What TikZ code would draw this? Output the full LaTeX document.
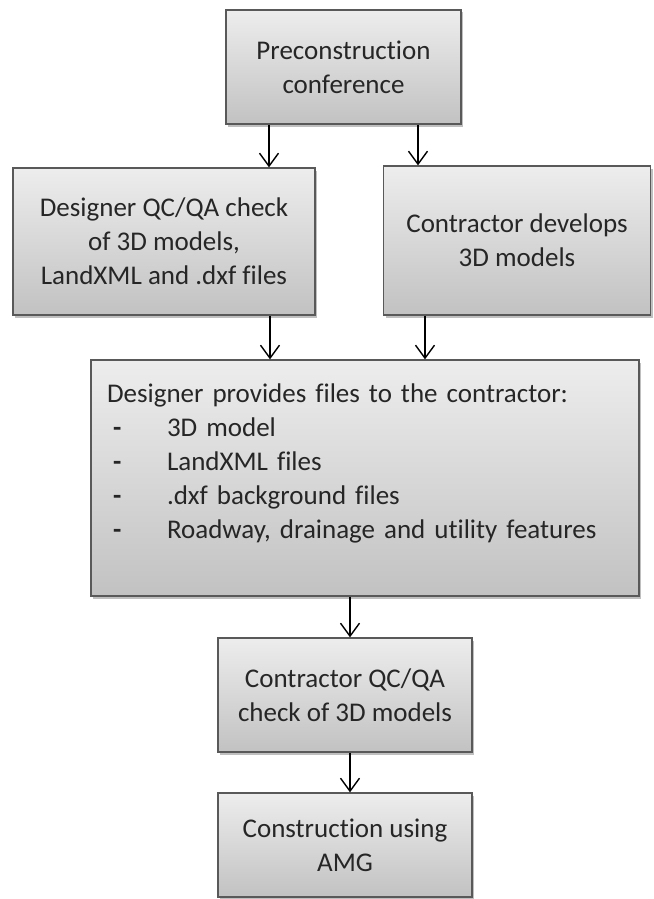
\documentclass[tikz,border=0pt]{standalone}
\usepackage{fontspec}
\setmainfont[Ligatures=NoCommon]{Carlito}
\usetikzlibrary{arrows.meta,shadows}

\tikzset{
  caja/.style={draw=black!65, line width=1.3pt, top color=black!7, bottom color=black!24,
    drop shadow={shadow xshift=2pt, shadow yshift=-2.5pt, opacity=0.25, fill=black},
    align=center, text=black!85, font=\fontsize{27}{34}\selectfont, inner sep=0pt},
  flecha/.style={-{Straight Barb[length=13pt,width=19pt,line width=1.4pt]}, line width=1.4pt, black}
}

\begin{document}
\begin{tikzpicture}[x=1pt,y=-1pt]
    \useasboundingbox (0,0) rectangle (653,899);

    % Cajas
    \node[caja, minimum width=235pt, minimum height=114pt] (pre) at (343.5,67) {Preconstruction\\conference};
    \node[caja, minimum width=302pt, minimum height=147pt] (disqc) at (164,241.5) {Designer QC/QA check\\of 3D models,\\LandXML and .dxf files};
    \node[caja, minimum width=267pt, minimum height=149pt] (condev) at (517,240.5) {Contractor develops\\3D models};
    \node[caja, minimum width=548pt, minimum height=236pt, text width=516pt, align=left] (archivos) at (365,478)
      {Designer provides files to the contractor:\\
       \hspace*{6pt}\makebox[54pt][l]{\textbf{-}}3D model\\
       \hspace*{6pt}\makebox[54pt][l]{\textbf{-}}LandXML files\\
       \hspace*{6pt}\makebox[54pt][l]{\textbf{-}}.dxf background files\\
       \hspace*{6pt}\makebox[54pt][l]{\textbf{-}}Roadway, drainage and utility features\\
       \mbox{}};
    \node[caja, minimum width=254pt, minimum height=114pt] (conqc) at (345,695) {Contractor QC/QA\\check of 3D models};
    \node[caja, minimum width=254pt, minimum height=104pt] (amg) at (345,845) {Construction using\\AMG};

    % Puntos de salida
    \coordinate (s1) at ([xshift=-74.5pt]pre.south);
    \coordinate (s2) at ([xshift=74.5pt]pre.south);
    \coordinate (s3) at ([xshift=106pt]disqc.south);
    \coordinate (s4) at ([xshift=-92pt]condev.south);
    \coordinate (s5) at ([xshift=-15pt]archivos.south);
    \coordinate (s6) at ([xshift=5pt]conqc.south);

    % Flechas
    \draw[flecha] (s1) -- (s1 |- disqc.north);
    \draw[flecha] (s2) -- (s2 |- condev.north);
    \draw[flecha] (s3) -- (s3 |- archivos.north);
    \draw[flecha] (s4) -- (s4 |- archivos.north);
    \draw[flecha] (s5) -- (s5 |- conqc.north);
    \draw[flecha] (s6) -- (s6 |- amg.north);
\end{tikzpicture}
\end{document}
